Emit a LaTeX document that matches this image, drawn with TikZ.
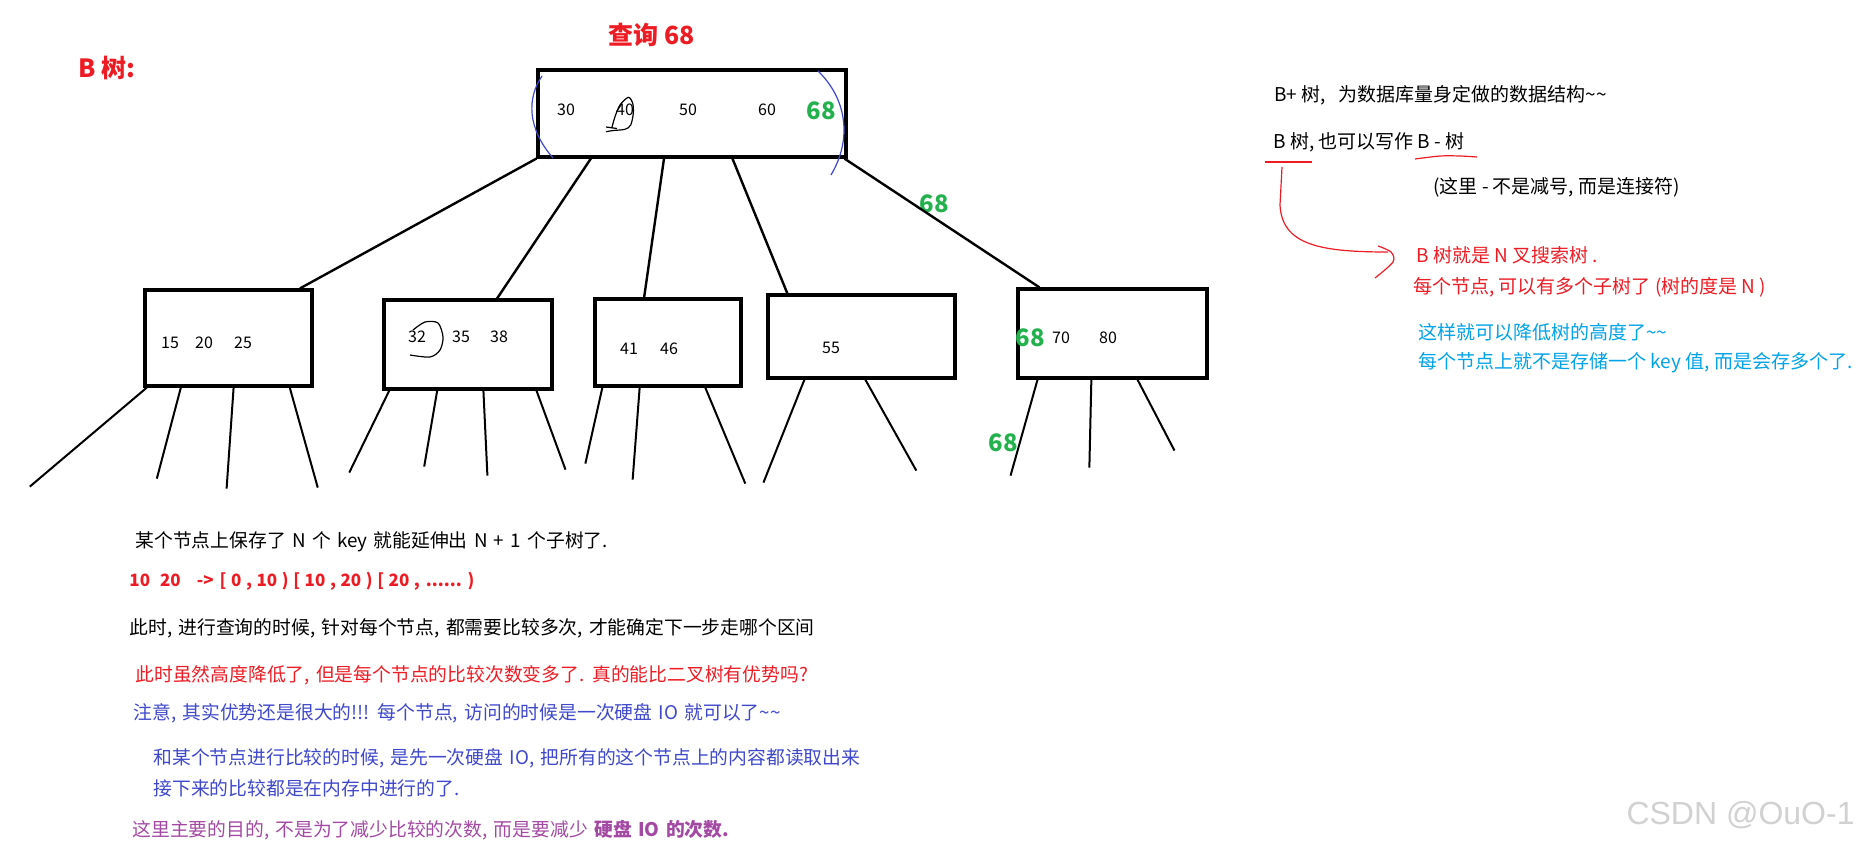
\documentclass[tikz,border=0pt]{standalone}
\usepackage{fontspec}
\setmainfont{Noto Sans CJK SC}
\newfontfamily\bodyfont{Noto Sans CJK SC}[WordSpace=1.5]
\newfontfamily\wmfont{Liberation Sans}
\usetikzlibrary{calc}
\definecolor{inkred}{RGB}{237,28,36}
\definecolor{inkgreen}{RGB}{34,177,76}
\definecolor{inksky}{RGB}{0,162,232}
\definecolor{inkblue}{RGB}{63,72,204}
\definecolor{inkpurple}{RGB}{163,73,164}

\begin{document}
\begin{tikzpicture}[x=0.5pt,y=-0.5pt]
\tikzset{box/.style={draw,line width=1.6pt,inner sep=0pt},
  num/.style={inner sep=0pt,font=\fontsize{8}{10}\selectfont},
  hit/.style={inner sep=0pt,text=inkgreen,font=\fontsize{12}{14}\selectfont\bfseries},
  note/.style={inner sep=0pt,anchor=west,font=\fontsize{9.5}{12}\selectfont},
  txt/.style={inner sep=0pt,anchor=west,font=\bodyfont\fontsize{9.4}{12}\selectfont},
  edge/.style={line width=1.2pt},
  leg/.style={line width=1pt},
  pen/.style={line width=0.6pt}}
\useasboundingbox (0,0) rectangle (1863,846);

\node[inner sep=0pt,anchor=west,text=inkred,font=\fontsize{12.5}{15}\selectfont\bfseries] (title) at (78,68) {B 树:};
\node[inner sep=0pt,anchor=west,text=inkred,font=\fontsize{12.5}{15}\selectfont\bfseries] (query) at (608,35) {查询 68};

\node[box,minimum width=154pt,minimum height=43.5pt] (root) at (692,113.5) {};
\node[box,minimum width=83.5pt,minimum height=48pt] (b1) at (228.5,338) {};
\node[box,minimum width=84pt,minimum height=44.5pt] (b2) at (468,344.5) {};
\node[box,minimum width=73pt,minimum height=43.5pt] (b3) at (668,342.5) {};
\node[box,minimum width=93.5pt,minimum height=41.5pt] (b4) at (861.5,336.5) {};
\node[box,minimum width=94.5pt,minimum height=44.5pt] (b5) at (1112.5,333.5) {};

\node[num] (k30) at (566,110) {30};
\node[num] (k40) at (625,110) {40};
\node[num] (k50) at (688,110) {50};
\node[num] (k60) at (767,110) {60};
\node[hit] (h1) at (821,111) {68};

\node[num] (k15) at (170,343) {15};
\node[num] (k20) at (204,343) {20};
\node[num] (k25) at (243,343) {25};
\node[num] (k32) at (417,337) {32};
\node[num] (k35) at (461,337) {35};
\node[num] (k38) at (499,337) {38};
\node[num] (k41) at (629,349) {41};
\node[num] (k46) at (669,349) {46};
\node[num] (k55) at (831,348) {55};
\node[num] (k70) at (1061,338) {70};
\node[num] (k80) at (1108,338) {80};
\node[hit] (h2) at (934,204) {68};
\node[hit] (h3) at (1030,338) {68};
\node[hit] (h4) at (1003,443) {68};

\foreach \a/\c/\f in {0/b1/.92, .175/b2/.67, .41/b3/.34, .63/b4/.11, .99/b5/.12}
  \draw[edge] ($(root.south west)!\a!(root.south east)$) -- ($(\c.north west)!\f!(\c.north east)$);

\foreach \c/\f/\dx/\dy in {b1/.02/-117/99, b1/.22/-24/91, b1/.53/-7/101, b1/.86/28/100,
  b2/.04/-40/82, b2/.32/-13/76, b2/.59/4/85, b2/.90/29/79,
  b3/.06/-17/76, b3/.31/-7/92, b3/.75/40/96,
  b4/.20/-41/103, b4/.52/51/91,
  b5/.11/-27/96, b5/.39/-2/88, b5/.63/37/71}
  \draw[leg] ($(\c.south west)!\f!(\c.south east)$) -- ++(\dx,\dy);

% hand marks
\draw[pen,inkblue] (542,76) .. controls (527,98) and (527,128) .. (553,158);
\draw[pen,inkblue] (818,71) .. controls (846,98) and (853,138) .. (831,175);
\draw[pen] plot[smooth] coordinates {(611.7,128.3) (615,116.7) (620,105) (628.3,97.3) (632.7,103.3) (633.3,113.3) (630.7,125) (625,129.3) (613.3,130.5) (606,131.7)};
\draw[pen] (606,127) -- (617,128.5);
\draw[pen] plot[smooth] coordinates {(413,330) (425,322) (438,323) (443,337) (440,350) (430,357) (410,355)};

\node[note] (bplus) at (1274,95) {B+ 树,\ \ \ 为数据库量身定做的数据结构\textasciitilde\textasciitilde};
\node[note] (alias) at (1273,142) {B 树, 也可以写作 B - 树};
\node[note] (dash) at (1433,187) {(这里 - 不是减号, 而是连接符)};
\draw[pen,inkred] (1265,162) -- (1312,162);
\draw[pen,inkred] plot[smooth] coordinates {(1415,159) (1440,156) (1460,156) (1477,157)};
\draw[pen,inkred] (1282,167) -- (1280,205) .. controls (1282,245) and (1320,252) .. (1388,252);
\draw[pen,inkred] plot[smooth] coordinates {(1378,246) (1391,252) (1393,262) (1375,278)};
\node[note,text=inkred] (ntree) at (1416,255) {B 树就是 N 叉搜索树 .};
\node[note,text=inkred] (degree) at (1413,287) {每个节点, 可以有多个子树了 (树的度是 N )};
\node[note,text=inksky] (lower) at (1418,332) {这样就可以降低树的高度了\textasciitilde\textasciitilde};
\node[note,text=inksky] (many) at (1418,363) {每个节点上就不是存储一个 key 值, 而是会存多个了.};

\node[txt] (l1) at (135,542) {某个节点上保存了 N 个 key 就能延伸出 N + 1 个子树了.};
\node[inner sep=0pt,anchor=west,text=inkred,font=\fontsize{8.5}{10}\selectfont\bfseries] (l2) at (129,581) {\spaceskip=2.3pt\relax 10\hspace{5pt}20\hspace{8pt}->\hspace{3pt}[ 0 , 10 ) [ 10 , 20 ) [ 20 ,\hspace{3pt}...... )};
\node[txt] (l3) at (129,628) {此时, 进行查询的时候, 针对每个节点, 都需要比较多次, 才能确定下一步走哪个区间};
\node[txt,text=inkred] (l4) at (135,675) {此时虽然高度降低了, 但是每个节点的比较次数变多了. 真的能比二叉树有优势吗?};
\node[txt,text=inkblue] (l5) at (133,713) {注意, 其实优势还是很大的!!! 每个节点, 访问的时候是一次硬盘 IO 就可以了\textasciitilde\textasciitilde};
\node[txt,text=inkblue] (l6) at (153,758) {和某个节点进行比较的时候, 是先一次硬盘 IO, 把所有的这个节点上的内容都读取出来};
\node[txt,text=inkblue] (l7) at (153,788) {接下来的比较都是在内存中进行的了.};
\node[txt,text=inkpurple] (l8) at (132,830) {这里主要的目的, 不是为了减少比较的次数, 而是要减少 \textbf{硬盘 IO 的次数.}};

\node[inner sep=0pt,anchor=east,text=black!18,font=\wmfont\fontsize{16}{19}\selectfont] (mark) at (1855,815) {CSDN @OuO-1};
\end{tikzpicture}
\end{document}
